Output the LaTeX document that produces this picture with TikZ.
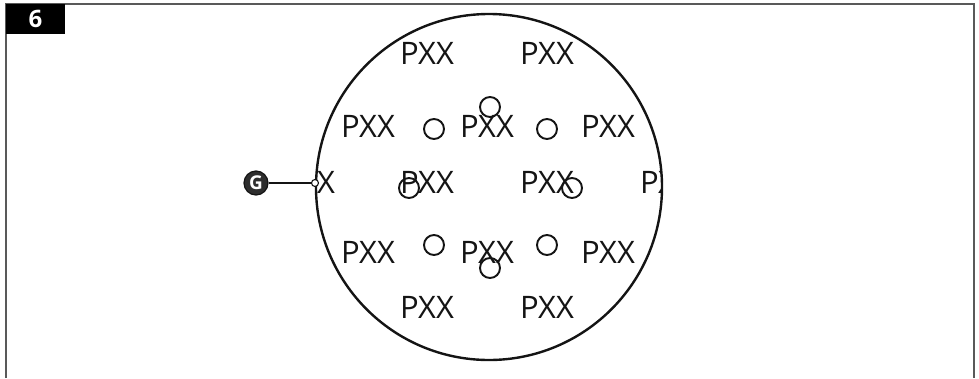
\documentclass[tikz,border=0pt]{standalone}
\usepackage{fontspec}
\setmainfont{Open Sans}
\usepackage{xcolor}
\usepackage{tikz}
\definecolor{ink}{gray}{0.08}
\definecolor{frame}{gray}{0.35}
\definecolor{knob}{gray}{0.18}
\tikzset{
  pin/.style={inner sep=0pt, text=ink, font=\fontsize{31}{31}\selectfont},
  hole/.style={circle, draw=ink, line width=1.9pt, fill=none, inner sep=0pt, minimum size=20pt},
  tab/.style={fill=black, text=white, inner sep=0pt, font=\fontsize{24}{24}\selectfont\bfseries},
  lead/.style={draw=ink, line width=1.4pt},
}
\begin{document}
\begin{tikzpicture}[x=1pt,y=-1pt]
        \useasboundingbox (0,0) rectangle (979,378);
        % frame and tab
        \draw[frame, line width=2.2pt] (6,378) -- (6,4) -- (974,4) -- (974,378);
        \node[tab, minimum width=59pt, minimum height=30pt] (nr) at (35.5,19) {6};
        % disc
        \draw[ink, line width=2.4pt] (489,187) circle (173);
        \begin{scope}
          \clip (489,187) circle (172);
          \node[pin] (p1) at (427,53) {PXX};
          \node[pin] (p2) at (547,53) {PXX};
          \node[pin] (p3) at (368,126) {PXX};
          \node[pin] (p4) at (487,126) {PXX};
          \node[pin] (p5) at (608,126) {PXX};
          \node[pin] (p6) at (308,182) {PXX};
          \node[pin] (p7) at (427,182) {PXX};
          \node[pin] (p8) at (547,182) {PXX};
          \node[pin] (p9) at (667,182) {PXX};
          \node[pin] (p10) at (368,252) {PXX};
          \node[pin] (p11) at (487,252) {PXX};
          \node[pin] (p12) at (608,252) {PXX};
          \node[pin] (p13) at (427,307) {PXX};
          \node[pin] (p14) at (547,307) {PXX};
        \end{scope}
        \node[hole] (h1) at (490,107) {};
        \node[hole] (h2) at (434,129) {};
        \node[hole] (h3) at (547,129) {};
        \node[hole] (h4) at (409,188) {};
        \node[hole] (h5) at (572,188) {};
        \node[hole] (h6) at (434,245) {};
        \node[hole] (h7) at (547,245) {};
        \node[hole] (h8) at (490,268) {};
        % ground lead
        \node[circle, fill=knob, draw=ink, line width=1.2pt, text=white, inner sep=0pt, minimum size=24pt,
              font=\fontsize{19}{19}\selectfont\bfseries] (g) at (256,183) {G};
        \node[circle, draw=ink, fill=white, line width=1.1pt, inner sep=0pt, minimum size=7pt] (tap) at (315,183) {};
        \draw[lead] (g) -- (tap);
      \end{tikzpicture}
\end{document}
